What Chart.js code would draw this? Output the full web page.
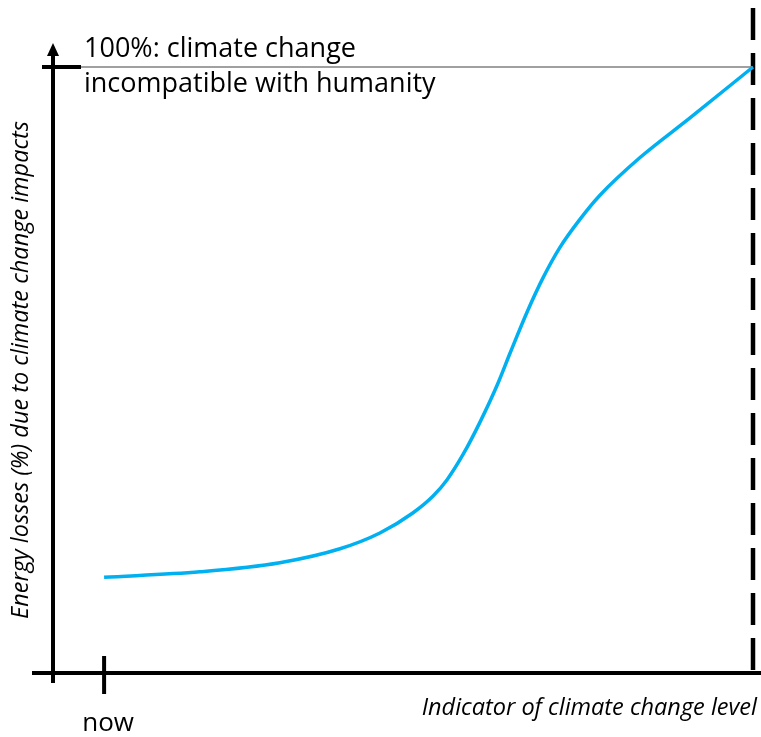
<!DOCTYPE html>
<html>
<head>
<meta charset="utf-8">
<script src="https://cdn.jsdelivr.net/npm/chart.js@4"></script>
<style>
    body { margin: 0; background: #fff; }
    #wrap { width: 761px; height: 737px; }
</style>
</head>
<body>
<div id="wrap"><canvas id="myCurveChart"></canvas></div>
<script>
// -------------------------------------------------------------------------- Data

const climateLevel = [7.3, 21.0, 32.4, 41.0, 46.7, 51.4, 54.3, 56.3, 58.6, 61.0, 63.6, 65.3, 67.7, 70.0, 72.4, 75.3, 78.1, 83.9, 91.0, 100]
const energyLosses = [15.8, 16.7, 18.2, 20.5, 23.1, 26.4, 29.2, 31.9, 36.1, 41.4, 47.9, 52.8, 59.5, 65.2, 70.2, 74.9, 78.8, 85.1, 91.6, 100]

const nowLevel = 7.3
const limitLevel = 100
const limitLosses = 100

const nowLabel = 'now'
const limitLabel = ['100%: climate change', 'incompatible with humanity']
const xTitle = 'Indicator of climate change level'
const yTitle = 'Energy losses (%) due to climate change impacts'

let blue = '0, 176, 240'
let black = '0, 0, 0'
let grey = '128, 128, 128'
let font = '"Open Sans", sans-serif'

// -------------------------------------------------------------------------- Axes plugin

const sketchAxes = {
    id: 'sketchAxes',
    beforeDatasetsDraw(chart) {
        const ctx = chart.ctx
        const x = chart.scales.x
        const y = chart.scales.y
        const x0 = x.getPixelForValue(0)
        const y0 = y.getPixelForValue(0)
        const xNow = x.getPixelForValue(nowLevel)
        const xLimit = x.getPixelForValue(limitLevel)
        const yLimit = y.getPixelForValue(limitLosses)

        ctx.save()
        ctx.strokeStyle = 'rgb(' + black + ')'
        ctx.fillStyle = 'rgb(' + black + ')'
        ctx.lineCap = 'butt'

        // dashed limit line
        ctx.lineWidth = 4.5
        ctx.setLineDash([32, 13])
        ctx.beginPath()
        ctx.moveTo(xLimit, 8)
        ctx.lineTo(xLimit, y0 + 10)
        ctx.stroke()
        ctx.setLineDash([])

        // 100% guide line
        ctx.strokeStyle = 'rgb(' + grey + ')'
        ctx.lineWidth = 1.5
        ctx.beginPath()
        ctx.moveTo(x0 + 28, yLimit)
        ctx.lineTo(xLimit, yLimit)
        ctx.stroke()

        ctx.strokeStyle = 'rgb(' + black + ')'
        ctx.lineWidth = 4
        // y axis
        ctx.beginPath()
        ctx.moveTo(x0, 54)
        ctx.lineTo(x0, y0 + 10)
        ctx.stroke()
        // arrow head
        ctx.beginPath()
        ctx.moveTo(x0, 43)
        ctx.lineTo(x0 - 6, 56)
        ctx.lineTo(x0 + 6, 56)
        ctx.closePath()
        ctx.fill()
        // 100% tick
        ctx.beginPath()
        ctx.moveTo(x0 - 11, yLimit)
        ctx.lineTo(x0 + 28, yLimit)
        ctx.stroke()
        // x axis
        ctx.beginPath()
        ctx.moveTo(x0 - 21, y0)
        ctx.lineTo(chart.width, y0)
        ctx.stroke()
        // now tick
        ctx.beginPath()
        ctx.moveTo(xNow, y0 - 17)
        ctx.lineTo(xNow, y0 + 21)
        ctx.stroke()

        // texts
        ctx.fillStyle = 'rgb(' + black + ')'
        ctx.textBaseline = 'alphabetic'
        ctx.font = '27px ' + font
        ctx.textAlign = 'left'
        ctx.fillText(limitLabel[0], x0 + 31, yLimit - 10)
        ctx.fillText(limitLabel[1], x0 + 31, yLimit + 25)

        ctx.font = '26px ' + font
        ctx.textAlign = 'center'
        ctx.fillText(nowLabel, xNow + 4, y0 + 58)

        ctx.font = 'italic 23.5px ' + font
        ctx.textAlign = 'right'
        ctx.fillText(xTitle, xLimit + 4, y0 + 42)

        ctx.translate(x0 - 25, (yLimit + y0) / 2)
        ctx.rotate(-Math.PI / 2)
        ctx.textAlign = 'center'
        ctx.fillText(yTitle, 0, 0)
        ctx.restore()
    }
}

// -------------------------------------------------------------------------- Chart config

const dataCurveChart = {
    datasets: [{
        label: 'Energy losses',
        data: climateLevel.map((v, i) => ({ x: v, y: energyLosses[i] })),
        showLine: true,
        borderColor: 'rgb(' + blue + ')',
        borderWidth: 3.5,
        pointRadius: 0,
        cubicInterpolationMode: 'monotone',
        clip: false
    }]
}

const configCurveChart = {
    type: 'scatter',
    data: dataCurveChart,
    options: {
        responsive: true,
        maintainAspectRatio: false,
        animation: false,
        layout: {
            padding: { left: 53, right: 8, top: 67, bottom: 64 }
        },
        plugins: {
            legend: { display: false },
            tooltip: { enabled: false }
        },
        scales: {
            x: { type: 'linear', min: 0, max: 100, display: false },
            y: { type: 'linear', min: 0, max: 100, display: false }
        }
    },
    plugins: [sketchAxes]
}

let myCurveChart = new Chart(
    document.getElementById('myCurveChart'),
    configCurveChart
)
</script>
</body>
</html>
